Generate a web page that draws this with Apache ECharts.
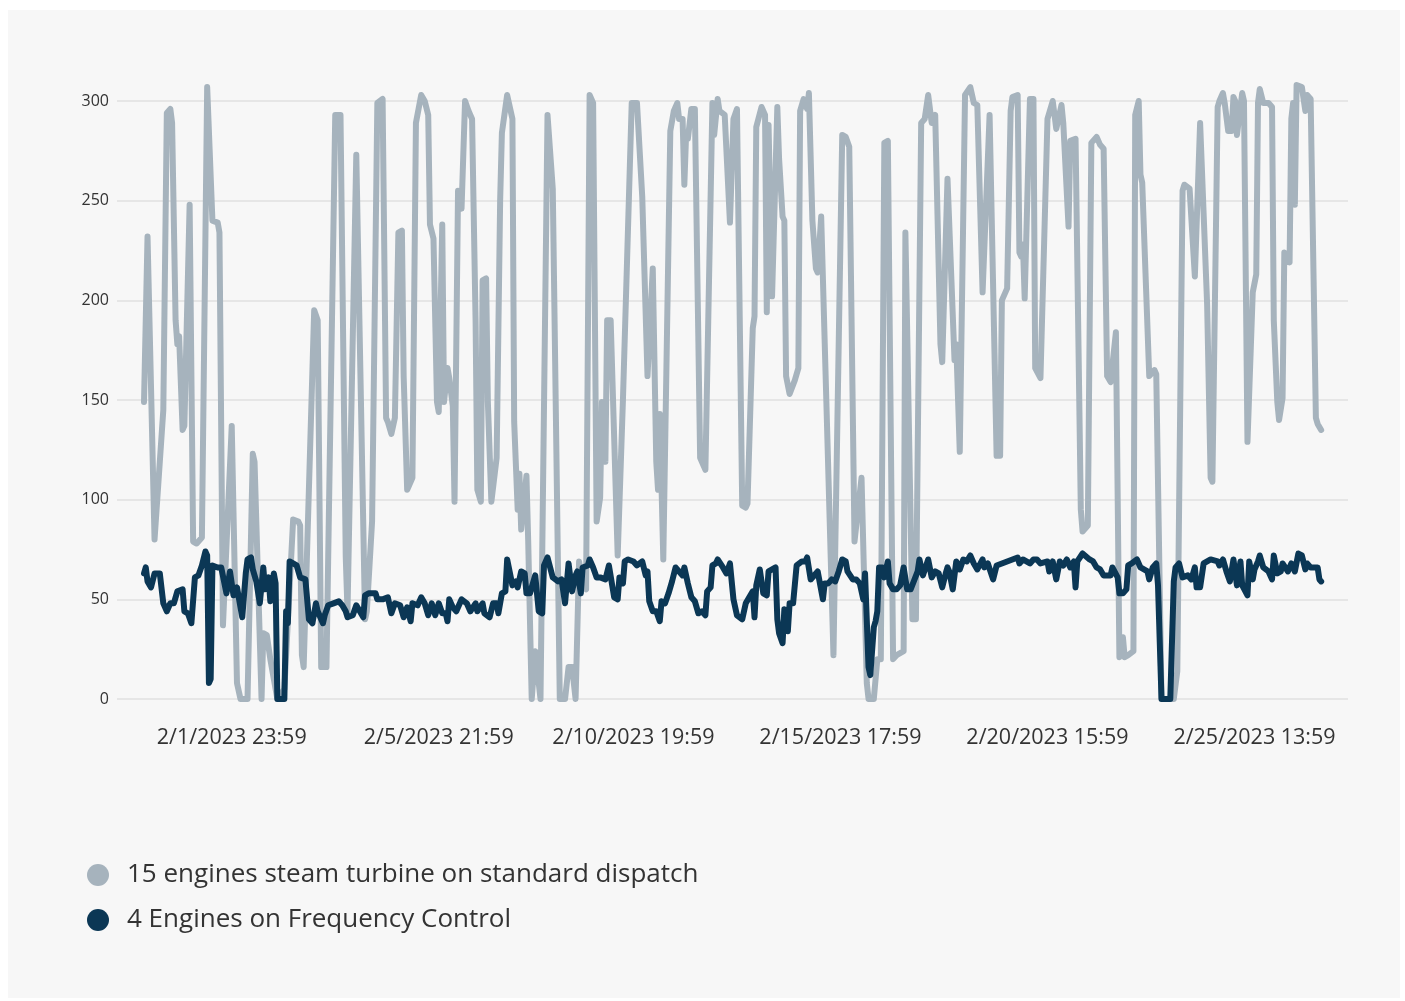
<!DOCTYPE html>
<html>
<head>
<meta charset="utf-8">
<script src="https://cdn.jsdelivr.net/npm/echarts@6/dist/echarts.min.js"></script>
<style>
  html, body { margin: 0; padding: 0; background: #ffffff; }
  #panel { position: absolute; left: 8px; top: 10px; width: 1392px; height: 988px; background: #f7f7f7; }
  #chart { position: absolute; left: 0; top: 0; width: 1405px; height: 1001px; }
</style>
</head>
<body>
<div id="panel"></div>
<div id="chart"></div>
<script>
// x = hours since the first reading
const tickHours = [50, 168, 279, 397, 515, 633];
const tickLabels = ['2/1/2023 23:59', '2/5/2023 21:59', '2/10/2023 19:59', '2/15/2023 17:59', '2/20/2023 15:59', '2/25/2023 13:59'];

const seriesNames = ['15 engines steam turbine on standard dispatch', '4 Engines on Frequency Control'];

const grayHours = [0,2,6,11,13,15,16,18,19,20,22,23,26,28,30,33,36,39,42,43,45,50,53,55,59,62,63,67,68,70,72,76,80,85,88,89,90,91,97,99,101,104,109,112,115,116,121,126,127,130,133,136,137,138,139,141,143,145,147,148,150,153,155,156,158,160,162,163,165,167,168,170,171,173,174,176,177,178,179,181,183,185,187,189,190,192,193,195,196,198,199,201,203,204,205,207,208,210,211,213,214,215,216,218,219,221,223,226,227,230,231,233,237,240,242,244,246,247,248,250,252,254,256,258,260,261,263,264,266,270,273,278,281,284,287,288,290,291,292,293,294,295,296,300,302,304,305,307,308,309,310,312,314,317,319,320,324,325,327,328,331,334,336,338,341,343,344,347,348,349,352,354,355,356,358,359,361,362,364,365,366,368,371,373,374,376,378,379,381,383,384,386,393,394,398,400,402,405,409,410,412,413,416,418,420,422,424,427,429,433,434,438,440,443,445,447,449,451,454,455,458,459,462,463,465,468,471,473,475,478,479,482,486,488,489,492,494,495,498,499,500,501,502,503,505,507,508,511,512,515,516,518,520,521,523,524,527,528,531,534,535,538,540,543,545,547,549,551,552,554,556,558,559,561,564,565,567,568,569,573,576,577,580,585,587,589,592,593,596,599,600,602,606,608,609,612,613,615,616,618,620,621,622,623,624,626,627,629,630,632,634,635,636,638,641,643,644,646,647,649,650,651,653,654,655,656,657,660,662,663,665,668,669,671];
const grayValues = [149,232,80,145,294,296,289,190,178,182,135,137,248,79,78,81,307,240,239,234,37,137,8,0,0,123,119,0,33,32,20,0,5,90,89,87,22,16,195,190,16,16,293,293,71,44,273,40,44,89,299,301,300,141,139,133,141,234,235,162,105,111,289,290,303,300,293,238,231,149,144,238,149,166,161,147,99,100,255,246,300,295,291,190,105,99,210,211,149,99,100,121,250,284,285,303,303,291,139,95,113,85,85,112,79,0,24,0,0,293,293,256,0,0,16,16,0,0,69,57,55,303,299,89,101,149,119,190,190,72,150,299,299,252,162,162,216,216,119,105,143,143,70,285,295,299,291,291,258,283,281,296,296,121,117,115,299,283,301,295,293,239,291,296,97,96,98,186,192,287,297,293,194,288,202,202,297,271,242,240,162,153,160,166,295,301,296,304,240,216,214,242,22,22,283,282,277,79,111,111,8,0,0,20,20,279,280,20,22,24,234,40,40,289,291,303,289,293,178,169,261,261,170,178,124,303,307,299,298,204,204,293,122,122,200,206,295,302,303,224,222,228,201,200,301,301,166,161,162,291,292,300,286,286,298,289,237,280,281,95,84,87,279,282,278,276,162,159,160,184,21,31,21,22,24,293,300,263,259,162,165,163,0,0,0,14,255,258,256,212,212,289,198,111,109,297,300,304,299,285,285,302,300,283,282,304,300,129,129,204,213,299,306,299,299,297,190,149,140,151,224,224,219,291,299,248,308,307,295,303,301,141,138,135];

const darkHours = [0,1,2,4,6,9,11,13,15,17,19,22,23,25,27,29,31,33,35,36,37,38,39,42,44,47,49,51,53,56,58,59,61,62,64,66,68,69,71,72,74,75,76,80,81,82,83,85,87,89,92,94,96,98,99,102,103,105,108,111,113,115,116,119,121,123,125,126,128,130,132,133,136,139,141,143,146,148,150,152,153,156,158,160,162,164,166,168,170,172,173,174,176,178,181,184,186,189,190,193,194,197,199,201,202,204,206,207,210,212,213,215,217,218,220,223,225,227,228,230,233,234,236,238,240,242,244,246,247,249,250,253,254,256,258,260,263,265,268,270,271,273,274,276,279,281,284,286,287,288,290,292,294,295,297,299,301,303,304,307,308,310,311,312,314,316,318,320,321,323,324,326,327,330,332,334,336,338,341,343,344,347,348,349,351,353,355,356,358,360,361,362,364,365,367,368,370,372,375,377,378,380,381,384,387,388,390,392,394,396,398,400,401,404,406,408,410,411,413,414,415,416,417,418,419,421,422,424,425,427,429,431,433,435,437,438,441,442,444,447,449,451,453,455,457,458,459,461,463,465,467,469,471,473,475,478,479,481,484,486,489,492,495,498,499,501,503,505,507,509,511,512,515,516,518,520,522,524,526,528,530,531,532,535,536,539,541,543,545,547,549,551,552,555,556,558,560,561,563,566,568,569,572,573,575,577,578,580,585,587,588,590,592,593,595,597,599,600,602,604,606,608,609,612,613,615,617,619,621,623,625,626,629,630,632,633,635,636,638,641,643,644,646,648,649,652,654,656,658,660,662,663,665,666,669,670,671];
const darkValues = [63,66,59,56,63,63,48,44,48,48,54,55,44,43,38,61,62,67,74,72,8,10,67,66,66,53,64,52,56,41,63,70,71,65,59,48,66,55,61,49,63,58,0,0,44,38,69,68,67,61,60,40,38,48,44,38,42,47,48,49,47,44,41,42,47,44,41,52,53,53,53,50,50,51,43,48,47,41,46,39,48,47,51,48,42,48,42,48,43,43,39,50,46,44,50,48,44,48,44,48,43,41,48,48,43,53,54,70,57,59,56,64,63,53,53,62,44,43,67,71,61,60,59,60,48,68,54,62,64,53,66,67,70,66,61,61,60,67,51,50,61,58,69,70,69,67,69,62,64,49,44,44,39,49,48,53,59,66,67,62,66,58,58,51,49,43,44,42,54,56,67,68,70,66,63,68,50,42,40,48,49,54,41,57,65,53,52,64,65,66,40,33,28,45,34,48,48,67,69,69,71,60,60,64,50,58,58,60,59,64,70,69,64,60,60,58,50,63,16,12,12,36,39,44,66,66,61,69,58,55,55,57,66,55,55,55,64,70,62,70,61,64,63,56,63,66,64,55,69,65,70,69,72,68,65,70,66,68,60,67,68,69,70,71,68,70,69,68,70,70,68,69,69,64,69,60,69,67,70,66,69,56,69,73,72,70,69,66,65,62,62,62,66,61,53,53,55,67,68,70,66,67,64,60,66,68,57,0,0,59,66,68,61,61,62,60,66,56,56,68,69,70,69,69,67,70,64,59,70,57,69,57,52,69,60,65,69,72,66,64,60,72,63,64,68,64,68,64,73,72,65,68,66,65,66,60,59];

const GRAY = '#a6b3bd';
const DARK = '#0b3755';

function zip(xs, ys) { return xs.map((x, i) => [x, ys[i]]); }

const chart = echarts.init(document.getElementById('chart'), null, { renderer: 'canvas' });
chart.setOption({
  animation: false,
  backgroundColor: 'transparent',
  textStyle: { fontFamily: 'Open Sans' },
  grid: { left: 117, right: 57, top: 101, bottom: 302, containLabel: false },
  legend: {
    orient: 'vertical',
    left: 82, top: 857,
    padding: 5,
    icon: 'circle',
    itemWidth: 22, itemHeight: 22,
    itemGap: 19,
    textStyle: { fontSize: 26, color: '#333', fontFamily: 'Open Sans', lineHeight: 26, padding: [0, 0, 0, 13] },
    data: seriesNames
  },
  xAxis: {
    type: 'value',
    min: -15.4, max: 686.3,
    axisLine: { show: false },
    axisTick: { show: false },
    splitLine: { show: false },
    axisLabel: {
      customValues: tickHours,
      formatter: function (v) { const i = tickHours.indexOf(v); return i >= 0 ? tickLabels[i] : ''; },
      fontSize: 21.5, color: '#333', margin: 28, fontFamily: 'Open Sans'
    }
  },
  yAxis: {
    type: 'value',
    min: 0, max: 300, interval: 50,
    axisLine: { show: false },
    axisTick: { show: false },
    splitLine: { lineStyle: { color: '#e6e6e6', width: 2 } },
    axisLabel: { fontSize: 16, color: '#333', margin: 8, fontFamily: 'Open Sans' }
  },
  series: [
    {
      name: seriesNames[0], type: 'line', data: zip(grayHours, grayValues),
      showSymbol: false, clip: false, color: GRAY,
      lineStyle: { width: 6, color: GRAY, join: 'round', cap: 'round' },
      emphasis: { disabled: true }, z: 2
    },
    {
      name: seriesNames[1], type: 'line', data: zip(darkHours, darkValues),
      showSymbol: false, clip: false, color: DARK,
      lineStyle: { width: 6, color: DARK, join: 'round', cap: 'round' },
      emphasis: { disabled: true }, z: 3
    }
  ]
});
</script>
</body>
</html>
